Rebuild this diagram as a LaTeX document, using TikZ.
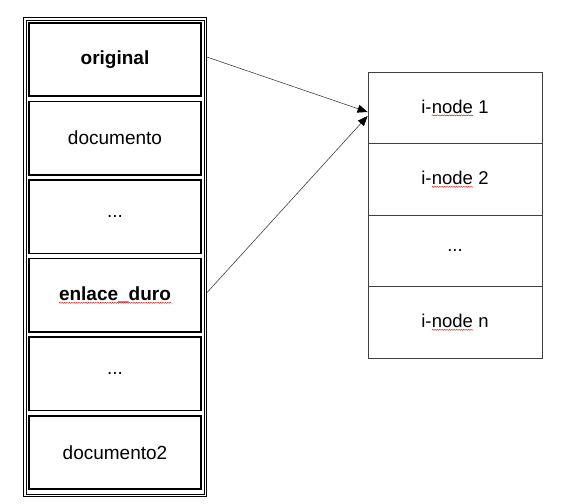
\documentclass[tikz,border=0pt]{standalone}
\usepackage{fontspec}
\setmainfont{Liberation Sans}
\usetikzlibrary{arrows.meta,decorations.pathmorphing}

% spell-check wave under a word
\newcommand{\wavy}[1]{\tikz[baseline=(w.base)]{\node[inner sep=0pt, outer sep=0pt, draw=none,
      minimum width=0pt, minimum height=0pt] (w) {#1};
  \draw[red!85!black, line width=0.4pt, decorate, decoration={snake,amplitude=0.5pt,segment length=2.4pt}]
    ([yshift=-2pt]w.base west) -- ([yshift=-2pt]w.base east);}}

\begin{document}
\begin{tikzpicture}[x=1pt,y=-1pt,
    cell/.style={draw=black, line width=1.6pt, minimum width=172pt, minimum height=73.5pt,
      inner sep=0pt, font=\fontsize{19}{23}\selectfont},
    inode/.style={draw=black!75, line width=0.8pt, minimum width=174pt, minimum height=71.5pt,
      inner sep=0pt, font=\fontsize{18.5}{22}\selectfont},
    link/.style={draw=black!75, line width=0.6pt, -{Triangle[length=10pt,width=8pt,fill=black,color=black]}}]
    \useasboundingbox (0,0) rectangle (567,503);

    % directory frame
    \draw[black, line width=1.3pt] (23.5,17.5) rectangle (206.5,496.5);
    \draw[black, line width=0.8pt] (26,20) rectangle (204,494);

    \node[cell] (c1) at (115,59.5) {\textbf{original}};
    \node[cell] (c2) at (115,138.1) {documento};
    \node[cell] (c3) at (115,216.7) {...};
    \node[cell] (c4) at (115,295.3) {\textbf{\wavy{enlace\_duro}}};
    \node[cell] (c5) at (115,373.9) {...};
    \node[cell] (c6) at (115,452.5) {documento2};

    % i-node table
    \node[inode] (i1) at (455,108) {i-\wavy{node}~1};
    \node[inode] (i2) at (455,179.5) {i-\wavy{node}~2};
    \node[inode] (i3) at (455,251) {...};
    \node[inode] (i4) at (455,322.5) {i-\wavy{node}~n};

    \draw[link] ([xshift=5pt,yshift=2.5pt]c1.east) -- ([yshift=-4pt]i1.west);
    \draw[link] ([xshift=5pt,yshift=2.5pt]c4.east) -- ([yshift=-8pt]i1.west);
\end{tikzpicture}
\end{document}
